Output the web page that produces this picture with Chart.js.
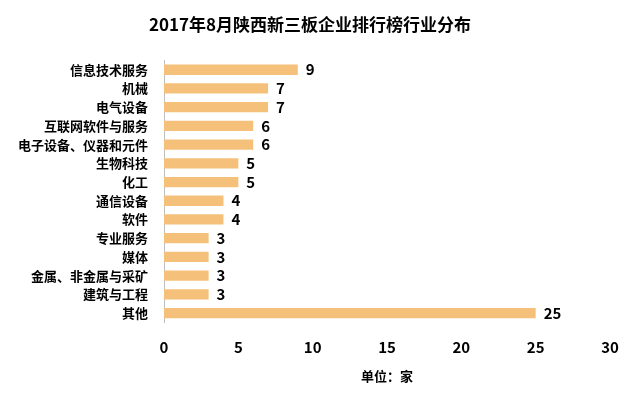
<!DOCTYPE html>
<html><head><meta charset="utf-8">
<script src="https://cdn.jsdelivr.net/npm/chart.js@4/dist/chart.umd.min.js"></script>
<style>html,body{margin:0;padding:0;background:#fff}#w{width:640px;height:404px}</style>
</head><body><div id="w"><canvas id="c" width="640" height="404"></canvas></div>
<script>
const categories = ["信息技术服务","机械","电气设备","互联网软件与服务","电子设备、仪器和元件","生物科技","化工","通信设备","软件","专业服务","媒体","金属、非金属与采矿","建筑与工程","其他"];
const values = [9,7,7,6,6,5,5,4,4,3,3,3,3,25];
const xTicks = [0,5,10,15,20,25,30];
const F = '"Noto Sans CJK SC", sans-serif';
const labelPlugin = {
  id:'lbl',
  afterDatasetsDraw(chart){
    const ctx=chart.ctx, meta=chart.getDatasetMeta(0);
    ctx.save();ctx.font='bold 15px '+F;ctx.fillStyle='#000';ctx.textBaseline='middle';
    meta.data.forEach((b,i)=>{ctx.fillText(String(values[i]),b.x+8,b.y);});
    ctx.restore();
  }
};
new Chart(document.getElementById('c'),{
  type:'bar',
  data:{labels:categories,datasets:[{data:values,backgroundColor:'#F4C07A',barPercentage:0.55,categoryPercentage:1}]},
  options:{indexAxis:'y',responsive:false,animation:false,
    layout:{padding:{left:10,right:30,top:10,bottom:16}},
    plugins:{legend:{display:false},tooltip:{enabled:false},
      title:{display:true,text:'2017年8月陕西新三板企业排行榜行业分布',font:{family:F,size:17,weight:'bold'},color:'#000',padding:{top:4,bottom:26}}},
    scales:{
      x:{min:0,max:30,afterBuildTicks(a){a.ticks=xTicks.map(v=>({value:v}));},
        grid:{display:false},border:{display:false},
        ticks:{font:{family:F,size:15,weight:'bold'},color:'#000',padding:8},
        title:{display:true,text:'单位：家',font:{family:F,size:13,weight:'bold'},color:'#000',padding:{top:4}}},
      y:{grid:{display:false},border:{color:'#bfbfbf'},
        ticks:{font:{family:F,size:13,weight:'bold'},color:'#000',padding:8,autoSkip:false}}
    }},
  plugins:[labelPlugin]
});
</script></body></html>
